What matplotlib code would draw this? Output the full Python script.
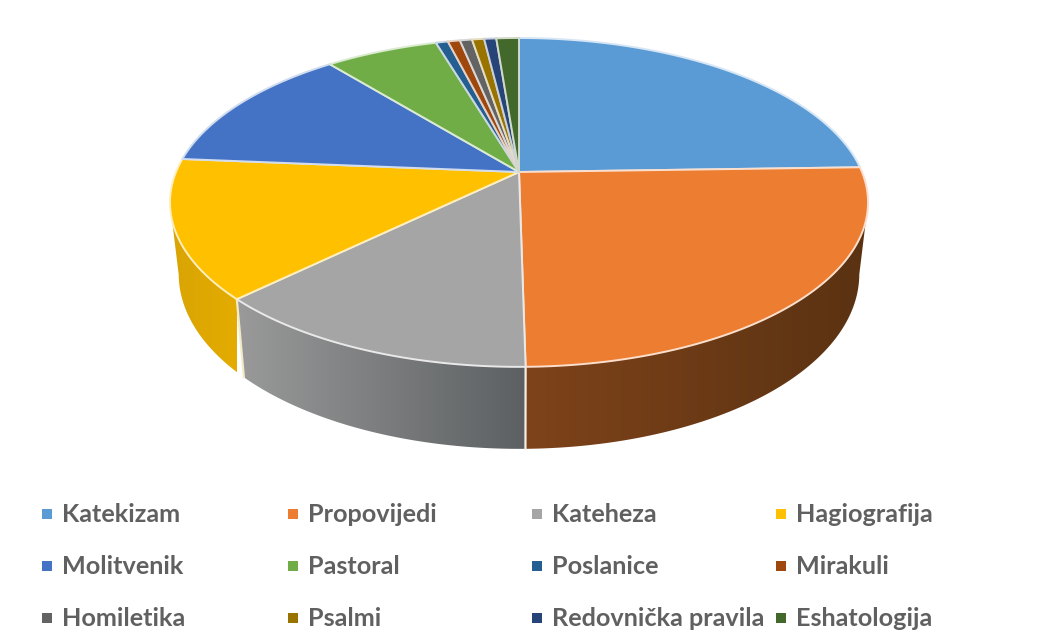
#!/usr/bin/env python3
import numpy as np
import matplotlib
matplotlib.use("Agg")
import matplotlib.pyplot as plt
from matplotlib.patches import Polygon

labels = ["Katekizam", "Propovijedi", "Kateheza", "Hagiografija",
          "Molitvenik", "Pastoral", "Poslanice", "Mirakuli",
          "Homiletika", "Psalmi", "Redovnička pravila", "Eshatologija"]
values = [24.5, 25.2, 12.95, 13.6, 12.8, 6.25, 0.67, 0.67, 0.67, 0.67, 0.67, 1.25]
colors = ["#5B9BD5", "#ED7D31", "#A5A5A5", "#FFC000", "#4472C4", "#70AD47",
          "#255E91", "#9E480E", "#636363", "#997300", "#264478", "#43682B"]

# side wall shading, left and right end of each visible slice
wall_colors = {1: ("#7E431A", "#5A3212"), 2: ("#9A9A9A", "#5C6062"), 3: ("#D9A404", "#E4AC00")}

# perspective of the disc, in pixels
cx, cy = 519.0, 172.0
R, H, K = 343.0, 158.8, 0.185


def top_rim(deg):
    t = np.radians(deg)
    u, v = np.sin(t), np.cos(t)
    w = 1 + K * v
    return cx + R * u / w, cy - H * v / w, v


def low_rim(deg):
    x, y, v = top_rim(deg)
    return cx + 0.975 * (x - cx), y + 69 - 13 * v


def mix(c1, c2, t):
    a = np.array(matplotlib.colors.to_rgb(c1))
    b = np.array(matplotlib.colors.to_rgb(c2))
    return tuple(a + (b - a) * t)


fig = plt.figure(figsize=(10.49, 6.32), dpi=100)
ax = fig.add_axes([0, 0, 1, 1])

edges = np.concatenate([[0], np.cumsum(values)]) / sum(values) * 360

# walls first, the top disc covers what is behind
for i in wall_colors:
    steps = np.linspace(edges[i], edges[i + 1], 160)
    # only the front of the rim, from the widest points round
    steps = steps[np.cos(np.radians(steps)) < -K]
    tx = np.array([top_rim(d)[0] for d in steps])
    ty = np.array([top_rim(d)[1] for d in steps])
    low = [low_rim(d) for d in steps]
    pts = list(zip(tx, ty)) + low[::-1]
    all_y = [p[1] for p in pts]
    left, right = wall_colors[i]
    grad = np.array([[mix(left, right, t) for t in np.linspace(0, 1, 256)]])
    im = ax.imshow(grad, aspect="auto", interpolation="bilinear", zorder=2,
                   extent=[tx.min(), tx.max(), max(all_y), min(all_y)])
    patch = Polygon(pts, closed=True, facecolor="none", edgecolor="none", transform=ax.transData)
    ax.add_patch(patch)
    im.set_clip_path(patch)

ax.set_xlim(0, 1049)
ax.set_ylim(632, 0)
ax.axis("off")

# wall separators
for i, c in [(2, "#F4EDE6"), (3, "#F3EBC8")]:
    x0, y0, _ = top_rim(edges[i])
    x1, y1 = low_rim(edges[i])
    ax.plot([x0, x1], [y0, y1], color=c, lw=1.6, zorder=3)

for i, c in enumerate(colors):
    a, b = edges[i], edges[i + 1]
    steps = np.linspace(a, b, int(b - a) * 2 + 4)
    px = [cx] + [top_rim(d)[0] for d in steps]
    py = [cy] + [top_rim(d)[1] for d in steps]
    edge = mix(c, "#FFFFFF", 0.75)
    ax.fill(px, py, facecolor=c, edgecolor=edge, lw=1.4, joinstyle="round", zorder=4)

# legend
rows_y = [514, 566, 618]
cols_x = [47, 293, 537, 781]
for i, name in enumerate(labels):
    x = cols_x[i % 4]
    y = rows_y[i // 4]
    ax.scatter([x], [y], marker="s", s=58, color=colors[i], lw=0, zorder=5)
    ax.text(x + 15, y + 1, name, family="Lato", weight="bold", fontsize=18.2,
            color="#606060", va="center", ha="left")

plt.savefig("out.png", dpi=100)
